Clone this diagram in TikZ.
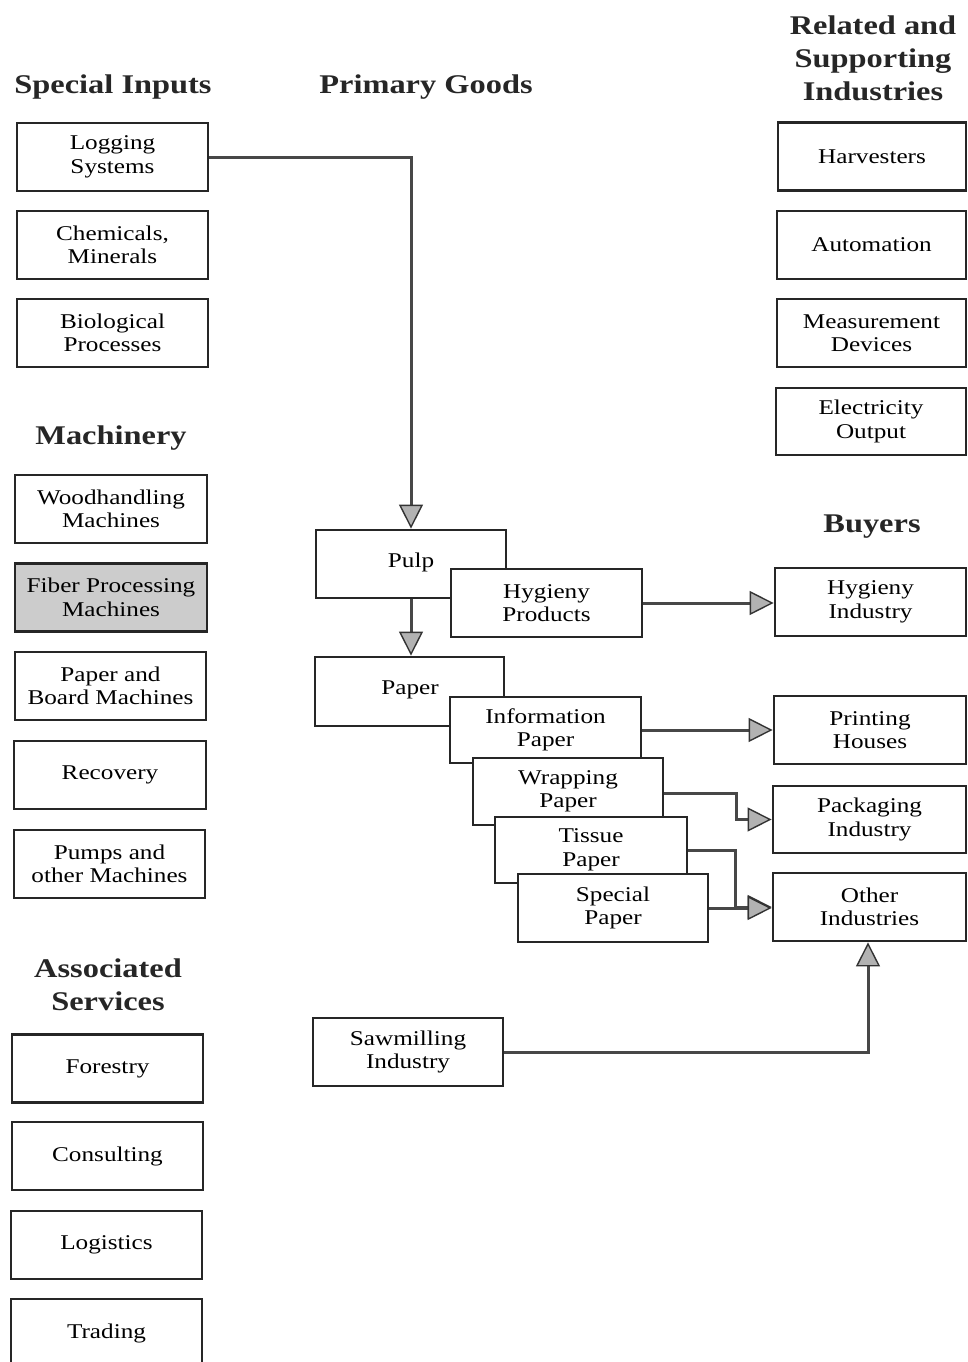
\documentclass[tikz,border=0pt]{standalone}
\usepackage{fontspec}
\setmainfont{Liberation Serif}[FakeStretch=1.2]
\usetikzlibrary{arrows.meta}
\newcommand\bodyfont{\fontsize{21}{23.5}\selectfont}
\newcommand\titlefont{\fontsize{27}{33}\selectfont\bfseries}
\tikzset{
  box/.style={draw=black!85, line width=2.8pt, fill=white, inner sep=0pt, align=center,
              font=\bodyfont, minimum width=191pt, minimum height=68pt},
  shadedbox/.style={box, fill=gray!40},
  ttl/.style={font=\titlefont, align=center, inner sep=0pt, text=black!85},
  conn/.style={draw=black!72, line width=3pt},
  arr/.style={conn, -{Triangle[length=24pt,width=24pt,fill=gray!60,color=black!80,line width=1.4pt]}},
}
\begin{document}
\begin{tikzpicture}[x=1pt,y=-1pt]
\useasboundingbox (0,0) rectangle (967,1362);
% titles
\node[ttl] (tspec) at (113,87) {Special Inputs};
\node[ttl] (tprim) at (426,87) {Primary Goods};
\node[ttl] (tmach) at (111,438) {Machinery};
\node[ttl] (tassoc) at (108,985) {Associated\\Services};
\node[ttl] (trel) at (873,58) {Related and\\Supporting\\Industries};
\node[ttl] (tbuy) at (872,527) {Buyers};
% left column
\node[box] (log) at (112.5,157) {Logging\\Systems};
\node[box] (chem) at (112.5,245) {Chemicals,\\Minerals};
\node[box] (bio) at (112.5,333) {Biological\\Processes};
\node[box, minimum width=192pt] (wood) at (111,509) {Woodhandling\\Machines};
\node[shadedbox, minimum width=192pt] (fiber) at (111,597.5) {Fiber Processing\\Machines};
\node[box] (paperb) at (110.5,686) {Paper and\\Board Machines};
\node[box, minimum width=192pt] (recov) at (110,775) {Recovery};
\node[box] (pumps) at (109.5,864) {Pumps and\\other Machines};
\node[box] (forest) at (107.5,1068.5) {Forestry};
\node[box] (consult) at (107.5,1156) {Consulting};
\node[box] (logist) at (106.5,1245) {Logistics};
\node[box] (trade) at (106.5,1333) {Trading};
% right column
\node[box, minimum width=188pt] (harv) at (872,156.5) {Harvesters};
\node[box, minimum width=189pt] (auto) at (871.5,245) {Automation};
\node[box, minimum width=189pt] (meas) at (871.5,333) {Measurement\\Devices};
\node[box, minimum width=190pt, minimum height=67pt] (elec) at (871,421.5) {Electricity\\Output};
\node[box] (hygind) at (870.5,602) {Hygieny\\Industry};
\node[box, minimum width=192pt] (print) at (870,730) {Printing\\Houses};
\node[box, minimum width=193pt, minimum height=67pt] (pack) at (869.5,819.5) {Packaging\\Industry};
\node[box, minimum width=193pt] (other) at (869.5,907) {Other\\Industries};
% middle
\node[box, minimum width=190pt] (pulp) at (411,564) {};
\node[font=\bodyfont] (pulpt) at (411,562) {Pulp};
\node[box] (hygp) at (546.5,603) {Hygieny\\Products};
\node[box, minimum width=189pt, minimum height=69pt] (paper) at (409.5,691.5) {};
\node[font=\bodyfont] (papert) at (410,690) {Paper};
\node[box, minimum height=66pt] (info) at (545.5,730) {Information\\Paper};
\node[box, minimum width=190pt, minimum height=67pt] (wrap) at (568,791.5) {Wrapping\\Paper};
\node[box, minimum width=192pt, minimum height=66pt] (tissue) at (591,850) {Tissue\\Paper};
\node[box, minimum width=190pt] (special) at (613,908) {Special\\Paper};
\node[box, minimum width=190pt] (saw) at (408,1052) {Sawmilling\\Industry};
% connectors
\draw[arr] (log.east) -| (pulp.north);
\draw[arr] (pulp.south) -- (pulp.south |- paper.north);
\draw[arr] (hygp.east) -- (hygp.east -| hygind.west);
\draw[arr] (info.east) -- (info.east -| print.west);
\draw[arr] ([yshift=-2pt]wrap.east) -- ++(72,0) |- (pack.west);
\draw[arr] (tissue.east) -- ++(47,0) |- (other.west);
\draw[arr] (special.east) -- (special.east -| other.west);
\draw[arr] (saw.east) -| ([xshift=-1.5pt]other.south);
\end{tikzpicture}
\end{document}
